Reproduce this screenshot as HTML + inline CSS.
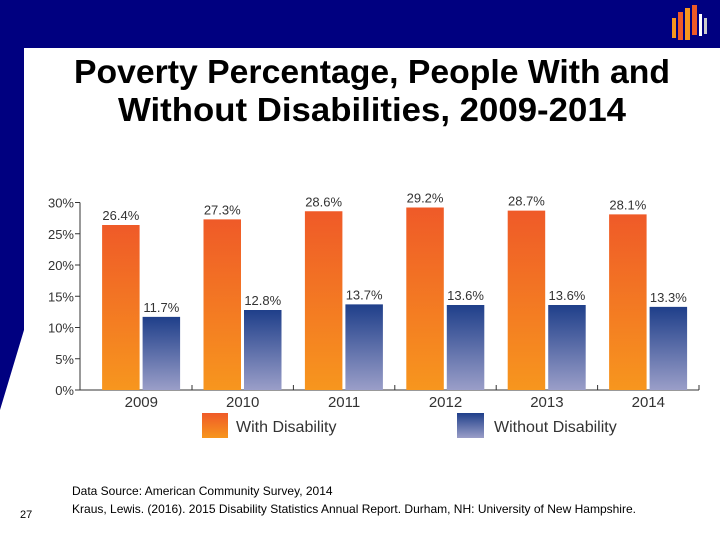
<!DOCTYPE html>
<html><head><meta charset="utf-8"><style>
body{margin:0;width:720px;height:540px;overflow:hidden;background:#fff;font-family:"Liberation Sans",sans-serif}
</style></head><body>
<svg width="720" height="540" viewBox="0 0 720 540">
<defs>
<linearGradient id="og" x1="0" y1="0" x2="0" y2="1"><stop offset="0" stop-color="#ef5a28"/><stop offset="1" stop-color="#f7961e"/></linearGradient>
<linearGradient id="bg" x1="0" y1="0" x2="0" y2="1"><stop offset="0" stop-color="#1f3f8a"/><stop offset="1" stop-color="#9a9ec8"/></linearGradient>
</defs>
<rect x="0" y="0" width="720" height="48" fill="#000080"/>
<polygon points="0,48 24,48 24,330 0,410" fill="#000080"/>
<g>
<rect x="672" y="18" width="4" height="20" fill="#f7961e"/><rect x="678" y="12" width="5" height="28" fill="#ef5a28"/><rect x="685" y="8" width="5" height="32" fill="#f7961e"/><rect x="692" y="5" width="5" height="30" fill="#ef5a28"/><rect x="699" y="14" width="3" height="22" fill="#fff"/><rect x="704" y="18" width="3" height="16" fill="#ccc"/>
</g>
<text x="372" y="83" text-anchor="middle" font-size="33" font-weight="bold" fill="#000" textLength="596" lengthAdjust="spacingAndGlyphs">Poverty Percentage, People With and</text>
<text x="372" y="121" text-anchor="middle" font-size="33" font-weight="bold" fill="#000" textLength="508" lengthAdjust="spacingAndGlyphs">Without Disabilities, 2009-2014</text>
<g id="chart"></g>
<rect x="202" y="413" width="26" height="25" fill="url(#og)"/>
<text x="236" y="432" font-size="16" fill="#333">With Disability</text>
<rect x="457" y="413" width="27" height="25" fill="url(#bg)"/>
<text x="494" y="432" font-size="16" fill="#333">Without Disability</text>
<text x="72" y="495" font-size="12" fill="#000">Data Source: American Community Survey, 2014</text>
<text x="72" y="513" font-size="12" fill="#000" textLength="564" lengthAdjust="spacingAndGlyphs">Kraus, Lewis. (2016). 2015 Disability Statistics Annual Report. Durham, NH: University of New Hampshire.</text>
<text x="20" y="518" font-size="11" fill="#000">27</text>
</svg>
<script>
const categories=["2009","2010","2011","2012","2013","2014"];
const withDisability=[26.4,27.3,28.6,29.2,28.7,28.1];
const withoutDisability=[11.7,12.8,13.7,13.6,13.6,13.3];
const yTicks=[0,5,10,15,20,25,30];
const ns="http://www.w3.org/2000/svg";
const g=document.getElementById("chart");
const x0=80,x1=699,yBase=390,pxPer=6.25;
const gw=101.4,gStart=x1-gw*categories.length;
const y=v=>yBase-v*pxPer;
function mk(t,a){const e=document.createElementNS(ns,t);for(const k in a)e.setAttribute(k,a[k]);g.appendChild(e);return e;}
let ax=mk("line",{x1:x0,y1:y(30),x2:x0,y2:yBase,stroke:"#333","stroke-width":1});


let xa=mk("line",{x1:x0,y1:yBase,x2:x1,y2:yBase,stroke:"#333","stroke-width":1});


yTicks.forEach(t=>{
  let tk=mk("line",{x1:x0-5,y1:y(t),x2:x0,y2:y(t),stroke:"#333"});
  
  
  let tl=mk("text",{x:x0-6,y:y(t)+5,"text-anchor":"end","font-size":13,fill:"#333"});
  tl.textContent=t+"%";
  
  
});
categories.forEach((c,i)=>{
  const gx=gStart+i*gw;
  let tk=mk("line",{x1:gx+gw,y1:yBase,x2:gx+gw,y2:yBase-5,stroke:"#333"});
  
  
  const bw=37.5,ox=gx+11.5,bx=ox+bw+3;
  let b1=mk("rect",{x:ox,y:y(withDisability[i]),width:bw,height:withDisability[i]*pxPer,fill:"url(#og)"});
  
  
  let b2=mk("rect",{x:bx,y:y(withoutDisability[i]),width:bw,height:withoutDisability[i]*pxPer,fill:"url(#bg)"});
  
  
  let l1=mk("text",{x:ox+bw/2,y:y(withDisability[i])-5,"text-anchor":"middle","font-size":13,fill:"#333"});
  l1.textContent=withDisability[i].toFixed(1)+"%";
  
  
  let l2=mk("text",{x:bx+bw/2,y:y(withoutDisability[i])-5,"text-anchor":"middle","font-size":13,fill:"#333"});
  l2.textContent=withoutDisability[i].toFixed(1)+"%";
  
  
  let cl=mk("text",{x:gx+gw/2,y:yBase+17,"text-anchor":"middle","font-size":15,fill:"#333"});
  cl.textContent=c;
  
  
});
</script>
</body></html>
